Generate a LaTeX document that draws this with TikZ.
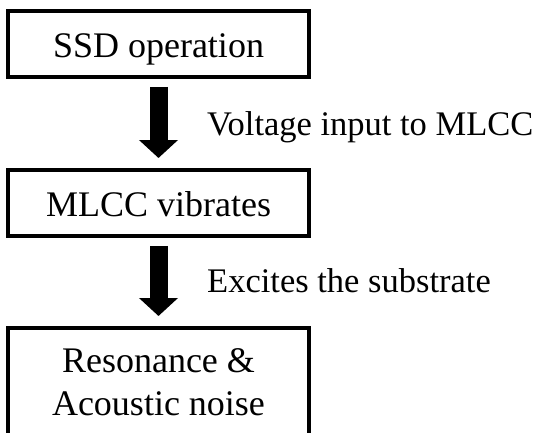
\documentclass[tikz,border=0pt]{standalone}
\usepackage{fontspec}
\setmainfont{Liberation Serif}
\usetikzlibrary{arrows.meta}
\begin{document}
\begin{tikzpicture}[x=1pt,y=-1pt,
  boxbase/.style={draw, line width=3.5pt, minimum width=301pt, inner sep=0pt,
    font=\fontsize{36}{43}\selectfont},
  onebox/.style={boxbase, minimum height=66pt, text height=26pt, text depth=0pt},
  twobox/.style={boxbase, minimum height=109pt, align=center},
  lbl/.style={inner sep=0pt, anchor=base west, font=\fontsize{34.5}{41}\selectfont},
  blockarrow/.style={line width=18pt, -{Triangle[width=38pt,length=18pt]},
    shorten <=8pt, shorten >=10.25pt}
]
\useasboundingbox (0,0) rectangle (539,432);
\clip (0,0) rectangle (539,432);
\node[onebox] (ssd) at (158.5,44) {SSD operation};
\node[onebox] (mlcc) at (158.5,203) {MLCC vibrates};
\node[twobox] (res) at (158.5,382.5) {Resonance \&\\Acoustic noise};
\draw[blockarrow] (ssd.south) -- (mlcc.north);
\draw[blockarrow] (mlcc.south) -- (res.north);
\node[lbl] (l1) at (207,135) {Voltage input to MLCC};
\node[lbl] (l2) at (207,292) {Excites the substrate};
\end{tikzpicture}
\end{document}
